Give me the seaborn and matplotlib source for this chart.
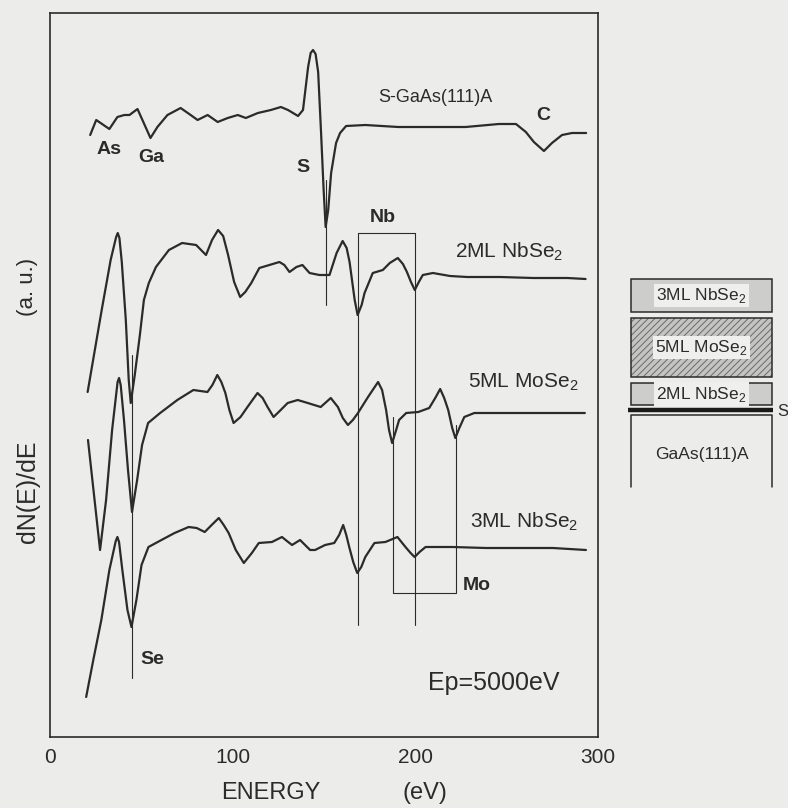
import matplotlib
matplotlib.use("Agg")
import matplotlib.pyplot as plt
from matplotlib.patches import Rectangle
import pandas as pd
import seaborn as sns

# Auger spectra: energy (eV) and dN(E)/dE (a.u., curves offset)
sgaas_e = [22.0, 25.3, 32.5, 36.9, 40.7, 43.5, 47.9, 50.6, 55.0, 58.8, 64.3, 71.5, 77.0,
           80.8, 86.3, 91.8, 97.3, 102.8, 107.2, 113.8, 120.9, 126.4, 130.3, 135.8, 138.5,
           141.3, 142.7, 144.0, 145.4, 146.8, 148.4, 149.8, 150.9, 152.3, 153.9, 156.6,
           158.8, 162.1, 172.6, 190.7, 208.9, 227.5, 245.7, 255.1, 260.5, 264.9, 270.4,
           274.8, 280.3, 285.8, 293.5]
sgaas_y = [602, 617, 608, 620, 622, 622, 628, 617, 599, 610, 622, 629, 622,
           617, 622, 615, 619, 622, 619, 624, 627, 630, 627, 621, 627,
           670, 684, 687, 683, 665, 604, 547, 510, 527, 564, 594,
           604, 611, 612, 610, 610, 610, 613, 613, 605, 595, 586,
           594, 602, 604, 604]

nb2_e = [20.6, 28.3, 33.2, 36.2, 37.1, 38.0, 39.3, 41.5, 43.1, 44.2, 46.4, 49.2, 51.4,
         54.1, 58.0, 65.1, 72.3, 80.0, 85.4, 88.7, 92.0, 94.8, 97.5, 100.8, 104.1, 106.9,
         110.2, 114.6, 120.1, 125.6, 128.3, 131.1, 134.9, 138.2, 142.1, 147.5, 153.0,
         156.9, 160.2, 162.4, 164.0, 166.8, 168.4, 170.6, 172.2, 176.7, 182.2, 186.0,
         190.4, 193.2, 195.4, 197.6, 199.7, 201.9, 204.1, 209.6, 219.0, 228.3, 246.4,
         264.6, 283.3, 293.2]
nb2_y = [345, 427, 477, 500, 504, 499, 475, 417, 357, 334, 362, 402, 437,
         454, 470, 487, 494, 492, 482, 497, 507, 501, 482, 455, 440, 445,
         454, 469, 472, 475, 472, 465, 470, 472, 464, 462, 462,
         484, 496, 489, 475, 437, 422, 432, 444, 464, 467, 474,
         479, 473, 465, 455, 447, 455, 462, 464, 461, 460, 460,
         459, 459, 458]

mo5_e = [20.8, 24.1, 27.4, 30.7, 34.0, 37.0, 37.8, 38.7, 40.5, 42.7, 44.9, 47.7, 50.4,
         53.7, 60.3, 69.7, 78.5, 86.2, 88.9, 91.6, 93.8, 96.0, 98.2, 100.5, 104.3, 108.1,
         113.6, 116.4, 119.1, 122.4, 126.3, 130.1, 135.6, 141.1, 148.2, 153.7, 157.6,
         160.3, 163.1, 165.8, 168.6, 174.1, 179.6, 181.8, 184.0, 185.6, 187.3, 189.5,
         191.1, 195.0, 201.6, 207.6, 210.9, 213.6, 215.8, 218.0, 220.2, 221.9, 224.1,
         226.8, 232.3, 247.2, 265.3, 292.8]
mo5_y = [297, 242, 187, 237, 307, 355, 359, 352, 317, 267, 225, 257, 292,
         314, 324, 337, 347, 345, 352, 362, 355, 344, 327, 314, 320, 330,
         344, 339, 330, 320, 327, 334, 337, 334, 330, 339, 330,
         319, 312, 317, 324, 340, 355, 347, 327, 307, 294, 307,
         317, 324, 325, 329, 339, 348, 339, 327, 309, 299, 309,
         320, 324, 324, 324, 324]

nb3_e = [19.8, 23.7, 28.1, 32.5, 36.0, 36.9, 37.8, 39.6, 42.4, 44.6, 47.3, 50.1, 53.9,
         61.0, 68.2, 75.9, 80.3, 84.7, 88.5, 92.4, 95.1, 97.8, 101.7, 106.1, 110.5, 114.3,
         121.5, 127.0, 129.7, 132.5, 136.9, 142.4, 145.1, 150.6, 155.6, 158.3, 160.5,
         162.2, 163.8, 166.0, 168.2, 170.4, 172.6, 177.6, 183.6, 190.2, 194.6, 197.4,
         199.6, 202.3, 205.6, 220.4, 238.6, 257.2, 275.3, 293.4]
nb3_y = [40, 77, 117, 167, 196, 200, 195, 167, 127, 110, 137, 172, 190,
         197, 204, 210, 209, 205, 212, 219, 212, 204, 187, 174, 184, 194,
         195, 200, 196, 192, 197, 187, 187, 192, 194, 202, 212,
         202, 190, 175, 164, 170, 180, 194, 195, 200, 190, 184,
         180, 185, 190, 190, 189, 189, 189, 187]

samples = ["S-GaAs(111)A", "2ML NbSe2", "5ML MoSe2", "3ML NbSe2"]

# marker lines for the elements
s_energy = 151.2
se_energy = 44.9
nb_energies = [168.7, 200.0]
mo_energies = [187.8, 222.4]

df = pd.concat([
    pd.DataFrame({"energy": e, "signal": y, "sample": name})
    for name, e, y in zip(samples, [sgaas_e, nb2_e, mo5_e, nb3_e],
                          [sgaas_y, nb2_y, mo5_y, nb3_y])
])

sns.set_style("white")
plt.rcParams["font.family"] = ["Liberation Sans", "DejaVu Sans"]
plt.rcParams["hatch.linewidth"] = 0.7
plt.rcParams["lines.solid_joinstyle"] = "round"

bg = "#ececea"
ink = "#2b2b2b"
fig = plt.figure(figsize=(7.88, 8.08), dpi=100, facecolor=bg)
ax = fig.add_axes([50 / 788, 71 / 808, 548 / 788, 724 / 808])
ax.set_facecolor(bg)

sns.lineplot(data=df, x="energy", y="signal", hue="sample", palette=[ink] * 4,
             sort=False, estimator=None, legend=False, linewidth=1.6, ax=ax)

ax.set_xlim(0, 300)
ax.set_ylim(0, 724)
ax.set_xticks([0, 100, 200, 300])
ax.set_xticks([50, 150, 250], minor=True)
ax.set_yticks([])
ax.tick_params(axis="x", which="major", direction="in", length=12, width=1.1,
               pad=8, labelsize=15, colors=ink)
ax.tick_params(axis="x", which="minor", direction="in", length=6, width=1.1)
ax.set_xlabel("")
ax.set_ylabel("")
for sp in ax.spines.values():
    sp.set_visible(True)
    sp.set_color(ink)
    sp.set_linewidth(1.2)

# element marker lines
thin = dict(color=ink, lw=0.8)
ax.plot([s_energy, s_energy], [432, 557], **thin)
ax.plot([se_energy, se_energy], [59, 382], **thin)
ax.plot([nb_energies[0], nb_energies[0], nb_energies[1], nb_energies[1]],
        [112, 504, 504, 112], **thin)
ax.plot([mo_energies[0], mo_energies[0], mo_energies[1], mo_energies[1]],
        [320, 144, 144, 312], **thin)

bold = dict(fontsize=14, fontweight="bold", color=ink, ha="center", va="center")
ax.text(32.5, 587, "As", **bold)
ax.text(55.6, 580, "Ga", **bold)
ax.text(138.7, 569, "S", **bold)
ax.text(270.3, 622, "C", **bold)
ax.text(181.9, 520, "Nb", **bold)
ax.text(226.0, 152, "Mo", **{**bold, "ha": "left"})
ax.text(49.5, 77, "Se", **{**bold, "ha": "left"})

ax.text(210.9, 639, "S-GaAs(111)A", fontsize=13, color=ink, ha="center", va="center")
lab = dict(fontsize=15, color=ink, ha="left", va="center")
ax.text(221.7, 485, r"2ML NbSe$_{\mathregular{2}}$", **lab)
ax.text(229.0, 355, r"5ML MoSe$_{\mathregular{2}}$", **lab)
ax.text(229.7, 215, r"3ML NbSe$_{\mathregular{2}}$", **lab)
ax.text(206.7, 54, "Ep=5000eV", fontsize=18, color=ink, ha="left", va="center")

xt = ax.get_xaxis_transform()
ax.text(121, -0.077, "ENERGY", transform=xt, fontsize=17, color=ink, ha="center", va="center")
ax.text(205, -0.077, "(eV)", transform=xt, fontsize=17, color=ink, ha="center", va="center")

fig.text(28 / 788, 1 - 492 / 808, "dN(E)/dE", rotation=90, fontsize=18, color=ink,
         ha="center", va="center")
fig.text(28 / 788, 1 - 287 / 808, "(a. u.)", rotation=90, fontsize=16, color=ink,
         ha="center", va="center")

# layer stack sketch on the right
lay = fig.add_axes([620 / 788, 1 - 495 / 808, 168 / 788, 223 / 808])
lay.set_xlim(620, 788)
lay.set_ylim(495, 272)
lay.axis("off")
x0, x1 = 631, 772
layers = [("3ML NbSe$_{\\mathregular{2}}$", 279, 312, "#cdcdcb", None),
          ("5ML MoSe$_{\\mathregular{2}}$", 318, 377, "#c4c4c2", "/////"),
          ("2ML NbSe$_{\\mathregular{2}}$", 383, 405, "#cdcdcb", None)]
for name, top, bot, fc, hatch in layers:
    if hatch:
        lay.add_patch(Rectangle((x0, top), x1 - x0, bot - top, facecolor=fc,
                                edgecolor="#6a6a6a", hatch=hatch, lw=0))
    else:
        lay.add_patch(Rectangle((x0, top), x1 - x0, bot - top, facecolor=fc, lw=0))
    lay.add_patch(Rectangle((x0, top), x1 - x0, bot - top, fill=False,
                            edgecolor=ink, lw=1.1))
    lay.text((x0 + x1) / 2, (top + bot) / 2, name, fontsize=12.5, color=ink,
             ha="center", va="center",
             bbox=dict(facecolor="#efefed", edgecolor="none", pad=1.5))
lay.plot([628, 773], [409.5, 409.5], color="#1a1a1a", lw=3.2, solid_capstyle="butt")
lay.text(777, 411, "S", fontsize=12, color=ink, ha="left", va="center")
lay.plot([x0, x0, x1, x1], [487, 415, 415, 487], color=ink, lw=1.1)
lay.text((x0 + x1) / 2, 455, "GaAs(111)A", fontsize=12.5, color=ink, ha="center", va="center")

fig.savefig("out.png", dpi=100, facecolor=bg)
